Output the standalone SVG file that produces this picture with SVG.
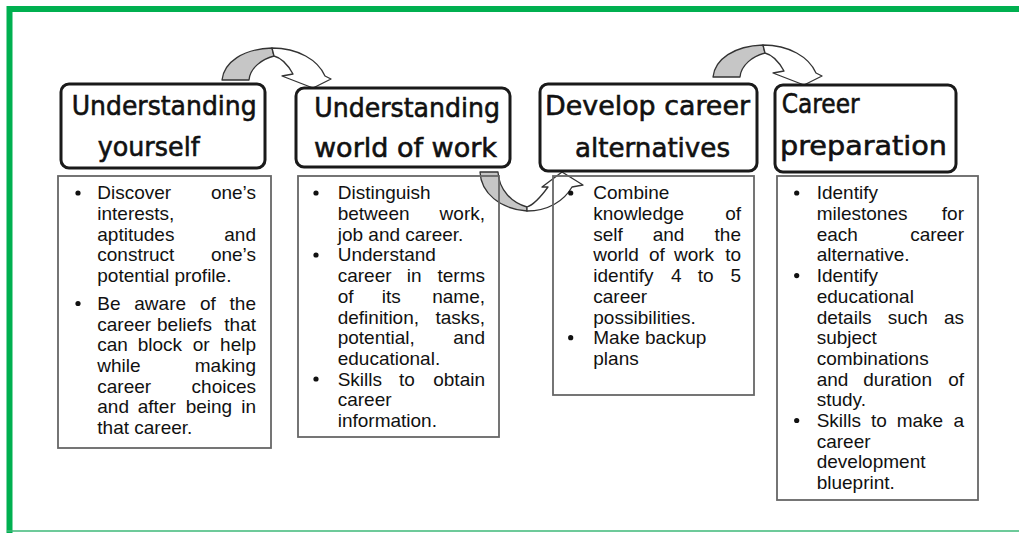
<svg xmlns="http://www.w3.org/2000/svg" xmlns:xlink="http://www.w3.org/1999/xlink" width="1019" height="533" viewBox="0 0 1019 533">
<style>
.frame{fill:none;stroke:#00B050;stroke-width:6}
.hbox{fill:#fff;stroke:#1a1a1a;stroke-width:3}
.cbox{fill:none;stroke:#666;stroke-width:1.8}
.ht{font-family:"DejaVu Sans",sans-serif;font-size:27px;fill:#111;stroke:#111;stroke-width:0.6}
.t{font-family:"Liberation Sans",Arial,sans-serif;font-size:19px;fill:#111}
.r{text-anchor:end}
.b{fill:#111}
.back{fill:#c6c6c6;stroke:#333;stroke-width:1.3;stroke-linejoin:round}
.front{fill:#fff;stroke:#333;stroke-width:1.3;stroke-linejoin:round}
</style>
<defs>
<g id="topArrow">
<path class="back" d="M222,80 C224,62 243,49 272,48 L274,56 C262,59 250,68 249,80 Z"/>
<path class="front" d="M272,48 C298,48 318,60 325,76 L331,79 L313,88 L282,76 L293,74 C288,65 282,58 274,56 Z"/>
</g>
</defs>
<rect width="1019" height="533" fill="#fff"/>
<g id="frame">
<path class="frame" d="M9.5,533 V9 H1019"/>
<path d="M7,531 H1019" fill="none" stroke="#3cb878" stroke-width="1.6"/>
</g>
<g id="connectors">
<use xlink:href="#topArrow"/>
<use xlink:href="#topArrow" transform="translate(491,-3)"/>
<g id="arrow2">
<path class="back" d="M480,172 C481,193 500,209 527,211 L527,207 C512,203 499,190 498,172 Z"/>
<path class="front" d="M527,211 C548,211 564,201 572,187 L583,185 L562,172 L542,187 L548,187 C540,198 533,205 527,207 Z"/>
</g>
</g>
<g id="node1">
<rect class="hbox" x="61" y="84" width="204" height="84" rx="8"/>
<text class="ht" x="71.7" y="115" textLength="185" lengthAdjust="spacingAndGlyphs">Understanding</text>
<text class="ht" x="97.7" y="156" textLength="102" lengthAdjust="spacingAndGlyphs">yourself</text>
<rect class="cbox" x="58" y="176" width="213" height="272"/>
<circle class="b" cx="78" cy="193" r="2.6"/>
<circle class="b" cx="78" cy="303.5" r="2.6"/>
<text class="t" x="97.3" y="199.3">Discover</text><text class="t r" x="256" y="199.3">one’s</text>
<text class="t" x="97.3" y="220">interests,</text>
<text class="t" x="97.3" y="240.7">aptitudes</text><text class="t r" x="256" y="240.7">and</text>
<text class="t" x="97.3" y="261.3">construct</text><text class="t r" x="256" y="261.3">one’s</text>
<text class="t" x="97.3" y="282">potential profile.</text>
<text class="t" y="310"><tspan x="97.3">Be</tspan><tspan x="134.3">aware</tspan><tspan x="200">of</tspan></text><text class="t r" x="256" y="310">the</text>
<text class="t" y="330.7"><tspan x="97.3">career</tspan><tspan x="157">beliefs</tspan></text><text class="t r" x="256" y="330.7">that</text>
<text class="t" y="351.3"><tspan x="97.3">can</tspan><tspan x="137.7">block</tspan><tspan x="192.7">or</tspan></text><text class="t r" x="256" y="351.3">help</text>
<text class="t" x="97.3" y="372">while</text><text class="t r" x="256" y="372">making</text>
<text class="t" x="97.3" y="392.7">career</text><text class="t r" x="256" y="392.7">choices</text>
<text class="t" y="413.3"><tspan x="97.3">and</tspan><tspan x="137.7">after</tspan><tspan x="185.7">being</tspan></text><text class="t r" x="256" y="413.3">in</text>
<text class="t" x="97.3" y="434">that career.</text>
</g>
<g id="node2">
<rect class="hbox" x="296" y="88" width="214" height="79" rx="8"/>
<text class="ht" x="314.3" y="117" textLength="185.7" lengthAdjust="spacingAndGlyphs">Understanding</text>
<text class="ht" x="314" y="156.7" textLength="183" lengthAdjust="spacingAndGlyphs">world of work</text>
<rect class="cbox" x="298" y="176" width="201" height="261"/>
<circle class="b" cx="316" cy="193" r="2.6"/>
<circle class="b" cx="316" cy="255" r="2.6"/>
<circle class="b" cx="316" cy="379" r="2.6"/>
<text class="t" x="337.7" y="199.3">Distinguish</text>
<text class="t" x="337.7" y="220">between</text><text class="t r" x="485" y="220">work,</text>
<text class="t" x="337.7" y="240.7">job and career.</text>
<text class="t" x="337.7" y="261.4">Understand</text>
<text class="t" y="282.1"><tspan x="337.7">career</tspan><tspan x="406.7">in</tspan></text><text class="t r" x="485" y="282.1">terms</text>
<text class="t" y="302.8"><tspan x="337.7">of</tspan><tspan x="381.7">its</tspan></text><text class="t r" x="485" y="302.8">name,</text>
<text class="t" x="337.7" y="323.5">definition,</text><text class="t r" x="485" y="323.5">tasks,</text>
<text class="t" x="337.7" y="344.2">potential,</text><text class="t r" x="485" y="344.2">and</text>
<text class="t" x="337.7" y="364.9">educational.</text>
<text class="t" y="385.6"><tspan x="337.7">Skills</tspan><tspan x="399">to</tspan></text><text class="t r" x="485" y="385.6">obtain</text>
<text class="t" x="337.7" y="406.3">career</text>
<text class="t" x="337.7" y="427">information.</text>
</g>
<g id="node3">
<rect class="hbox" x="540" y="84" width="217" height="87" rx="8"/>
<text class="ht" x="545" y="115" textLength="205" lengthAdjust="spacingAndGlyphs">Develop career</text>
<text class="ht" x="575" y="156.7" textLength="155" lengthAdjust="spacingAndGlyphs">alternatives</text>
<rect class="cbox" x="553" y="176" width="201" height="219"/>
<circle class="b" cx="570.7" cy="193" r="2.6"/>
<circle class="b" cx="570.7" cy="337.7" r="2.6"/>
<text class="t" x="593.3" y="199.3">Combine</text>
<text class="t" x="593.3" y="220">knowledge</text><text class="t r" x="741" y="220">of</text>
<text class="t" y="240.7"><tspan x="593.3">self</tspan><tspan x="652.7">and</tspan></text><text class="t r" x="741" y="240.7">the</text>
<text class="t" y="261.4"><tspan x="593.3">world</tspan><tspan x="649">of</tspan><tspan x="674">work</tspan></text><text class="t r" x="741" y="261.4">to</text>
<text class="t" y="282.1"><tspan x="593.3">identify</tspan><tspan x="671">4</tspan><tspan x="697.7">to</tspan></text><text class="t r" x="741" y="282.1">5</text>
<text class="t" x="593.3" y="302.8">career</text>
<text class="t" x="593.3" y="323.5">possibilities.</text>
<text class="t" x="593.3" y="344.2">Make backup</text>
<text class="t" x="593.3" y="364.9">plans</text>
</g>
<g id="node4">
<rect class="hbox" x="775" y="85" width="181" height="87" rx="8"/>
<text class="ht" x="781.7" y="113.3" textLength="78" lengthAdjust="spacingAndGlyphs">Career</text>
<text class="ht" x="780" y="155" textLength="167" lengthAdjust="spacingAndGlyphs">preparation</text>
<rect class="cbox" x="777" y="176" width="201" height="324"/>
<circle class="b" cx="796.7" cy="193" r="2.6"/>
<circle class="b" cx="796.7" cy="275.6" r="2.6"/>
<circle class="b" cx="796.7" cy="420.5" r="2.6"/>
<text class="t" x="816.7" y="199.3">Identify</text>
<text class="t" x="816.7" y="220">milestones</text><text class="t r" x="964" y="220">for</text>
<text class="t" x="816.7" y="240.7">each</text><text class="t r" x="964" y="240.7">career</text>
<text class="t" x="816.7" y="261.4">alternative.</text>
<text class="t" x="816.7" y="282.1">Identify</text>
<text class="t" x="816.7" y="302.8">educational</text>
<text class="t" y="323.5"><tspan x="816.7">details</tspan><tspan x="887.7">such</tspan></text><text class="t r" x="964" y="323.5">as</text>
<text class="t" x="816.7" y="344.2">subject</text>
<text class="t" x="816.7" y="364.9">combinations</text>
<text class="t" y="385.6"><tspan x="816.7">and</tspan><tspan x="863.3">duration</tspan></text><text class="t r" x="964" y="385.6">of</text>
<text class="t" x="816.7" y="406.3">study.</text>
<text class="t" y="427"><tspan x="816.7">Skills</tspan><tspan x="871">to</tspan><tspan x="896.7">make</tspan></text><text class="t r" x="964" y="427">a</text>
<text class="t" x="816.7" y="447.7">career</text>
<text class="t" x="816.7" y="468.4">development</text>
<text class="t" x="816.7" y="489.1">blueprint.</text>
</g>
</svg>
